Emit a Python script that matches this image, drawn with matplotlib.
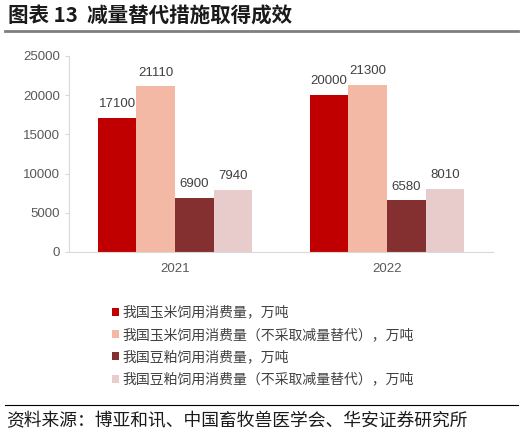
import numpy as np
import matplotlib
matplotlib.use("Agg")
import matplotlib.pyplot as plt
from matplotlib.lines import Line2D

plt.rcParams['font.family'] = ['Liberation Sans', 'Noto Sans CJK SC', 'DejaVu Sans']

# 数据
years = ["2021", "2022"]
series_names = [
    "我国玉米饲用消费量，万吨",
    "我国玉米饲用消费量（不采取减量替代），万吨",
    "我国豆粕饲用消费量，万吨",
    "我国豆粕饲用消费量（不采取减量替代），万吨",
]
corn = [17100, 20000]
corn_no_sub = [21110, 21300]
soy = [6900, 6580]
soy_no_sub = [7940, 8010]
colors = ["#C00000", "#F4B9A4", "#843031", "#E8CCCC"]

fig = plt.figure(figsize=(5.28, 4.36), dpi=100)
ax = fig.add_axes([69 / 528, 1 - 252 / 436, 424 / 528, 196 / 436])

x = np.arange(len(years))
w = 0.182
all_series = [corn, corn_no_sub, soy, soy_no_sub]
for i, vals in enumerate(all_series):
    pos = x + (i - 1.5) * w
    bars = ax.bar(pos, vals, w, color=colors[i], label=series_names[i])
    for b, v in zip(bars, vals):
        ax.text(b.get_x() + b.get_width() / 2, v + 1000, str(v),
                ha="center", va="bottom", fontsize=9.5, color="#404040")

ax.set_xlim(-0.5, 1.5)
ax.set_ylim(0, 25000)
ax.set_yticks(range(0, 25001, 5000))
ax.set_xticks(x)
ax.set_xticklabels(years)
for s in ["top", "right"]:
    ax.spines[s].set_visible(False)
ax.spines["left"].set_color("#D9D9D9")
ax.spines["bottom"].set_color("#D9D9D9")
ax.tick_params(axis="y", colors="#595959", labelsize=9.5, length=3, color="#D9D9D9")
ax.tick_params(axis="x", colors="#595959", labelsize=9.5, length=0, pad=8)

# 图例
handles, labels = ax.get_legend_handles_labels()
fig.legend(handles, labels, loc="upper left", bbox_to_anchor=(106 / 528, 1 - 300 / 436),
           frameon=False, prop={"family": ["Noto Sans CJK SC"], "size": 10},
           labelcolor="#404040", handlelength=0.5, handleheight=0.5,
           handletextpad=0.25, labelspacing=0.6, borderaxespad=0)

# 标题
fig.text(8 / 528, 1 - 16 / 436, "图表 13  减量替代措施取得成效", fontsize=14.8, fontweight="bold",
         va="center", ha="left", color="#1a1a1a", family=["Noto Sans CJK SC", "DejaVu Sans"])
fig.add_artist(Line2D([5 / 528, 518 / 528], [1 - 31 / 436] * 2, color="#7F7F7F", lw=2))
fig.add_artist(Line2D([5 / 528, 518 / 528], [1 - 405 / 436] * 2, color="#000000", lw=0.8))
fig.text(6 / 528, 1 - 421 / 436, "资料来源：博亚和讯、中国畜牧兽医学会、华安证券研究所", fontsize=12.8,
         va="center", ha="left", color="#1a1a1a", family=["Noto Sans CJK SC"])

fig.savefig("out.png", dpi=100)
